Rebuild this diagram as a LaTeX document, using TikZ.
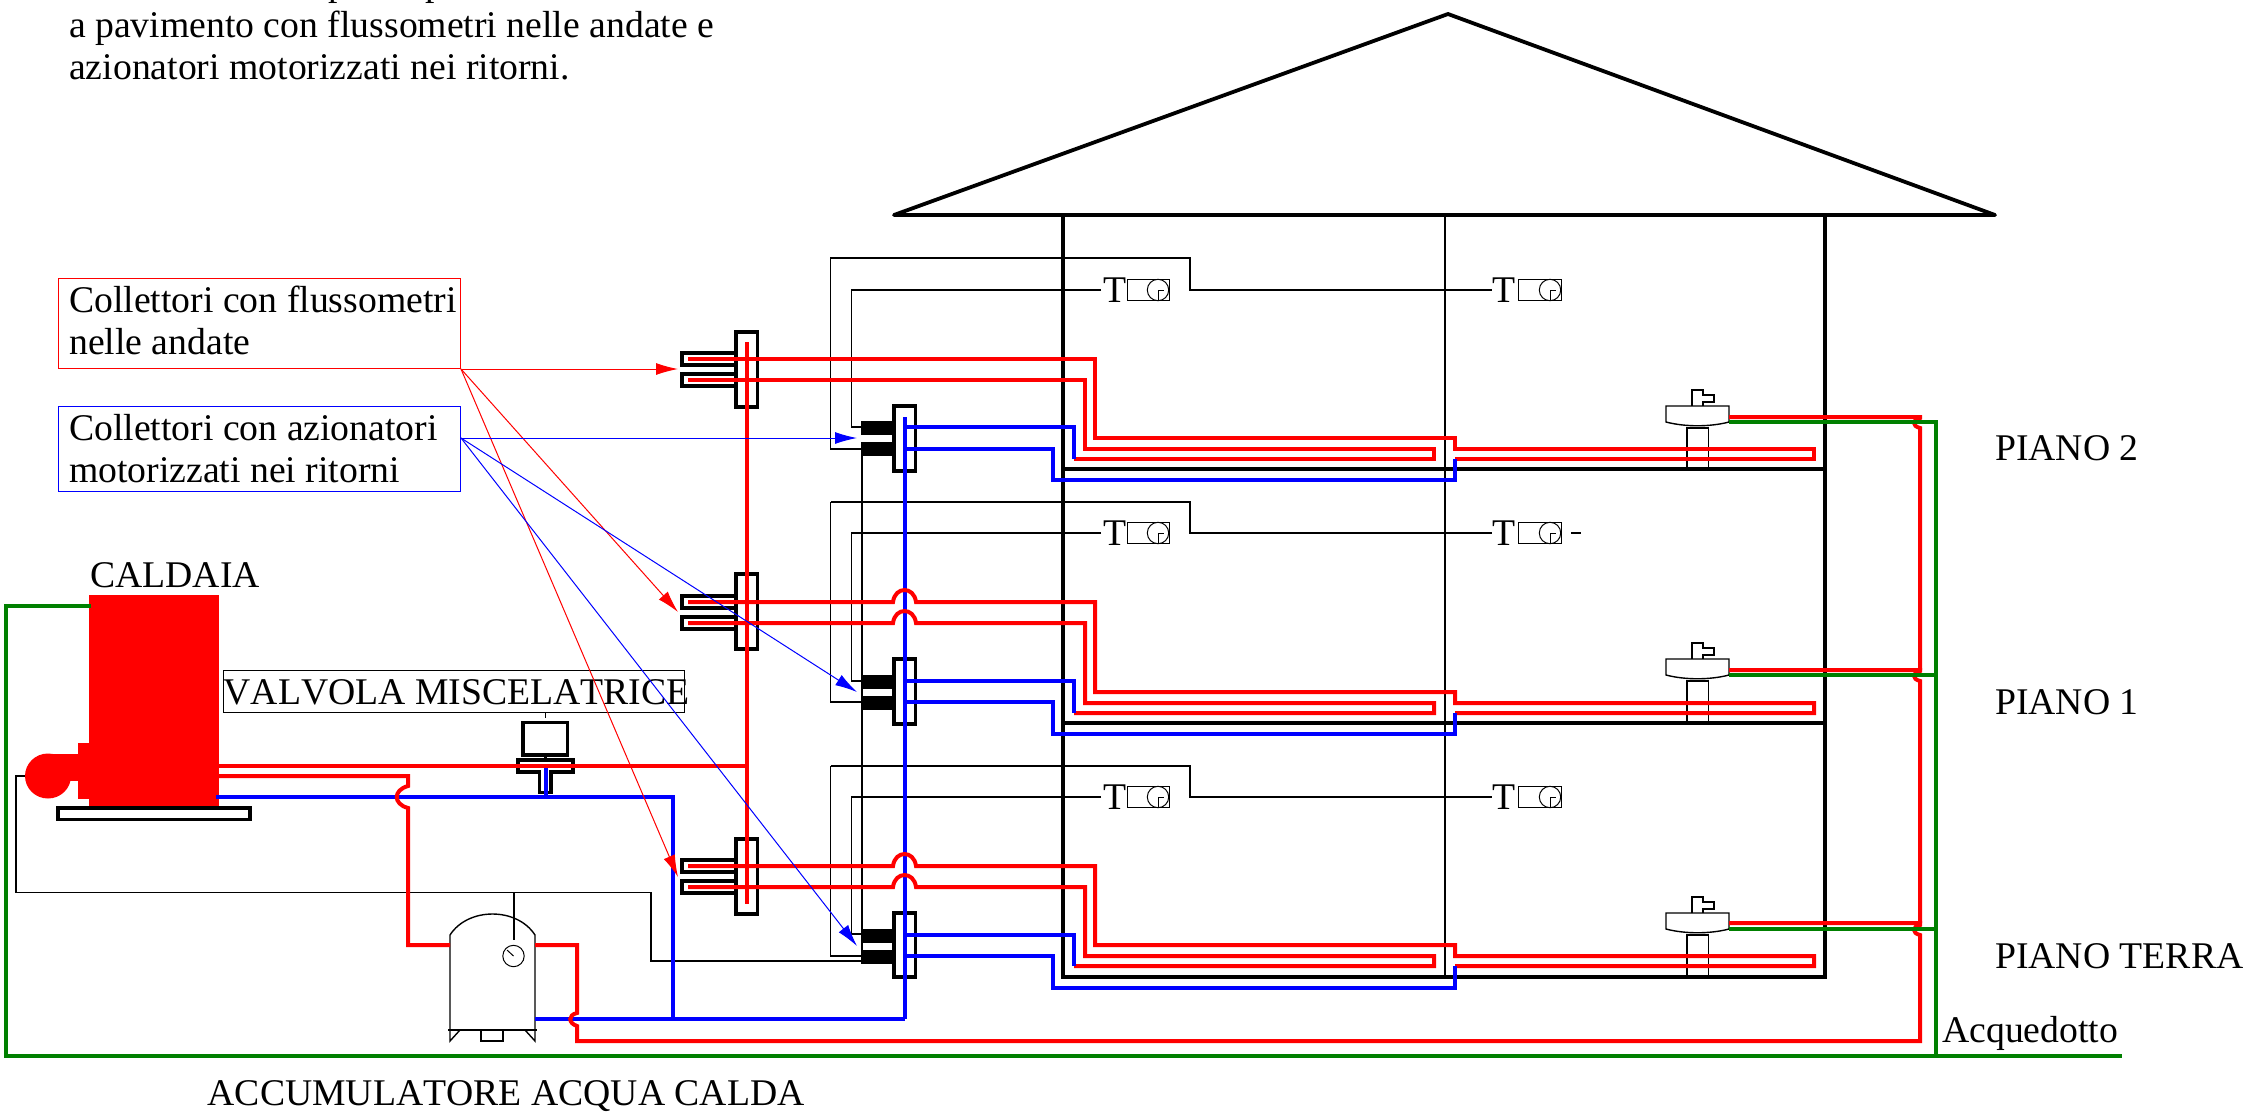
\documentclass[tikz,border=0pt]{standalone}
\usepackage{fontspec}
\setmainfont[Kerning=Off]{Liberation Serif}
\usetikzlibrary{arrows.meta}
\begin{document}
\begin{tikzpicture}[x=1pt, y=-1pt, line join=miter,
    every node/.style={font=\fontsize{37.7}{42.5}\selectfont, inner sep=0pt},
    label/.style={anchor=base west},
    thinline/.style={black, line width=1.4pt},
    fineline/.style={black, line width=1pt},
    wall/.style={black, line width=3.8pt},
    hot/.style={red, line width=4pt},
    cold/.style={blue, line width=4pt},
    mains/.style={green!50!black, line width=4pt},
    redbox/.style={draw=red, line width=1pt, minimum width=402pt, minimum height=90pt},
    bluebox/.style={draw=blue, line width=1pt, minimum width=402pt, minimum height=85pt},
    redcall/.style={red, line width=1pt, -{Latex[length=22pt, width=12pt]}},
    bluecall/.style={blue, line width=1pt, -{Latex[length=22pt, width=12pt]}}]
\useasboundingbox (0, 0) rectangle (2246, 1112);

\node (topa) [label] at (328, -5) {p};
\node (topb) [label] at (425, -5) {p};
\node (topc) [label] at (69, 37) {a pavimento con flussometri nelle andate e};
\node (topd) [label] at (69, 79) {azionatori motorizzati nei ritorni.};

\draw [wall, line join=round] (894, 215) -- (1448, 14) -- (1995, 215) -- cycle;
\draw [wall] (1063, 215) -- (1063, 977) -- (1825, 977) -- (1825, 215);
\draw [wall] (1063, 469) -- (1825, 469);
\draw [wall] (1063, 723) -- (1825, 723);
\draw [thinline] (1445, 215) -- (1445, 977);

\draw [thinline] (862, 258) -- (830.5, 258) -- (830.5, 449) -- (862, 449);
\draw [thinline] (830.5, 258) -- (1190, 258) -- (1190, 290) -- (1492, 290);
\draw [thinline] (1101, 290) -- (851.5, 290) -- (851.5, 427) -- (862, 427);
\draw [thinline] (830.5, 502) -- (830.5, 702) -- (862, 702);
\draw [thinline] (830.5, 502) -- (1190, 502) -- (1190, 533) -- (1492, 533);
\draw [thinline] (1101, 533) -- (851.5, 533) -- (851.5, 681) -- (862, 681);
\draw [thinline] (830.5, 766) -- (830.5, 956) -- (862, 956);
\draw [thinline] (830.5, 766) -- (1190, 766) -- (1190, 797) -- (1492, 797);
\draw [thinline] (1101, 797) -- (851.5, 797) -- (851.5, 934) -- (862, 934);
\draw [thinline] (862, 455) -- (862, 961);
\draw [thinline] (25, 776) -- (16, 776) -- (16, 892.5) -- (651, 892.5) -- (651, 961) -- (862, 961);
\draw [thinline] (514, 892.5) -- (514, 940);
\draw [thinline] (1571, 533) -- (1581, 533);

\node (thermoa) [label] at (1103, 302) {T};
\node (thermob) [label] at (1492, 302) {T};
\node (thermoc) [label] at (1103, 545) {T};
\node (thermod) [label] at (1492, 545) {T};
\node (thermoe) [label] at (1103, 809) {T};
\node (thermof) [label] at (1492, 809) {T};
\draw [fineline] (1127, 279) rectangle (1169, 300);
\draw [fineline] (1518, 279) rectangle (1561, 300);
\draw [fineline] (1127, 522) rectangle (1169, 543);
\draw [fineline] (1518, 522) rectangle (1561, 543);
\draw [fineline] (1127, 786) rectangle (1169, 807);
\draw [fineline] (1518, 786) rectangle (1561, 807);
\draw [fineline] (1158, 290) circle [radius=10.7];
\draw [fineline] (1550, 290) circle [radius=10.7];
\draw [fineline] (1158, 533) circle [radius=10.7];
\draw [fineline] (1550, 533) circle [radius=10.7];
\draw [fineline] (1158, 797) circle [radius=10.7];
\draw [fineline] (1550, 797) circle [radius=10.7];
\draw [fineline] (1158, 300) -- (1158, 290) -- (1164, 290);
\draw [fineline] (1550, 300) -- (1550, 290) -- (1556, 290);
\draw [fineline] (1158, 543) -- (1158, 533) -- (1164, 533);
\draw [fineline] (1550, 543) -- (1550, 533) -- (1556, 533);
\draw [fineline] (1158, 807) -- (1158, 797) -- (1164, 797);
\draw [fineline] (1550, 807) -- (1550, 797) -- (1556, 797);

\draw [thinline] (1692, 406) -- (1692, 390) -- (1703, 390) -- (1703, 395) -- (1714, 395) -- (1714, 402) -- (1703, 402) -- (1703, 406);
\draw [thinline] (1666, 406) -- (1729, 406) -- (1729, 422) .. controls (1710, 427) and (1685, 427) .. (1666, 422) -- cycle;
\draw [thinline] (1687, 469) -- (1687, 428) -- (1708.5, 428) -- (1708.5, 469);
\draw [thinline] (1692, 659) -- (1692, 643) -- (1703, 643) -- (1703, 648) -- (1714, 648) -- (1714, 655) -- (1703, 655) -- (1703, 659);
\draw [thinline] (1666, 659) -- (1729, 659) -- (1729, 675) .. controls (1710, 680) and (1685, 680) .. (1666, 675) -- cycle;
\draw [thinline] (1687, 723) -- (1687, 681) -- (1708.5, 681) -- (1708.5, 723);
\draw [thinline] (1692, 913) -- (1692, 897) -- (1703, 897) -- (1703, 902) -- (1714, 902) -- (1714, 909) -- (1703, 909) -- (1703, 913);
\draw [thinline] (1666, 913) -- (1729, 913) -- (1729, 929) .. controls (1710, 934) and (1685, 934) .. (1666, 929) -- cycle;
\draw [thinline] (1687, 977) -- (1687, 935) -- (1708.5, 935) -- (1708.5, 977);

\draw [fill, red, draw=none] (89, 595) rectangle (218.5, 808);
\draw [fill, red, draw=none] (78, 742.5) rectangle (89, 799);
\draw [fill, red, draw=none] (48, 753.5) rectangle (78, 781);
\draw [fill, red, draw=none] (48, 776) ellipse [x radius=23, y radius=22.5];
\draw [wall, fill=white] (58, 808) rectangle (250, 819.5);

\draw [thinline] (450, 1030) -- (450, 935) .. controls (468, 907) and (517, 907) .. (535, 935) -- (535, 1030);
\draw [thinline] (448, 1030) -- (537, 1030);
\draw [thinline] (450, 1041) -- (450, 1030) -- (460, 1030) -- cycle;
\draw [thinline] (535, 1041) -- (535, 1030) -- (525, 1030) -- cycle;
\draw [thinline] (481, 1030) -- (481, 1041) -- (503, 1041) -- (503, 1030);
\draw [fineline] (513.5, 956) circle [radius=10.7];
\draw [fineline] (513.5, 956) -- (507, 950);

\draw [fineline] (223, 670) rectangle (684, 712);
\node (valvola) [label] at (223.5, 704) {VALVOLA MISCELATRICE};
\draw [fineline] (545.5, 712) -- (545.5, 718);
\draw [wall] (523, 722.5) rectangle (567.5, 755);
\draw [wall] (545.5, 755) -- (545.5, 760);
\draw [wall] (518, 760) -- (573, 760) -- (573, 772) -- (551, 772) -- (551, 792.5) -- (539.5, 792.5) -- (539.5, 772) -- (518, 772) -- cycle;

\draw [wall] (736, 332) rectangle (757.5, 407);
\draw [wall] (736, 574) rectangle (757.5, 649);
\draw [wall] (736, 839) rectangle (757.5, 914);
\draw [wall] (736, 353) -- (682, 353) -- (682, 365) -- (736, 365);
\draw [wall] (736, 374) -- (682, 374) -- (682, 386) -- (736, 386);
\draw [wall] (736, 596) -- (682, 596) -- (682, 608) -- (736, 608);
\draw [wall] (736, 617) -- (682, 617) -- (682, 629) -- (736, 629);
\draw [wall] (736, 860) -- (682, 860) -- (682, 872) -- (736, 872);
\draw [wall] (736, 881) -- (682, 881) -- (682, 893) -- (736, 893);

\draw [wall] (894, 406) rectangle (915.5, 471);
\draw [wall] (894, 659) rectangle (915.5, 724);
\draw [wall] (894, 913) rectangle (915.5, 977);
\draw [fill] (861, 421) rectangle (894, 434);
\draw [fill] (861, 442) rectangle (894, 455);
\draw [fill] (861, 675) rectangle (894, 688);
\draw [fill] (861, 696) rectangle (894, 709);
\draw [fill] (861, 929) rectangle (894, 942);
\draw [fill] (861, 950) rectangle (894, 963);

\draw [cold] (904.5, 417) -- (904.5, 1019);
\draw [cold] (535, 1019) -- (904.5, 1019);
\draw [cold] (216, 797) -- (672.5, 797) -- (672.5, 1019);
\draw [cold] (545.5, 765) -- (545.5, 797);

\draw [hot] (218, 765.5) -- (746.5, 765.5);
\draw [hot] (746.5, 342) -- (746.5, 904);
\draw [hot] (218, 776) -- (408, 776) -- (408, 786) .. controls (393, 790) and (393, 804) .. (408, 808) -- (408, 945) -- (450, 945);
\draw [hot] (535, 945) -- (577, 945) -- (577, 1013) .. controls (568, 1015) and (568, 1023) .. (577, 1026) -- (577, 1041) -- (1920, 1041) -- (1920, 935) .. controls (1912, 933) and (1912, 927) .. (1920, 925) -- (1920, 923) -- (1729, 923);
\draw [hot] (1920, 923) -- (1920, 681) .. controls (1912, 679) and (1912, 673) .. (1920, 671) -- (1920, 670) -- (1729, 670);
\draw [hot] (1920, 670) -- (1920, 428) .. controls (1912, 426) and (1912, 420) .. (1920, 418) -- (1920, 417) -- (1729, 417);

\draw [mains] (91, 606) -- (5.5, 606) -- (5.5, 1056) -- (2122, 1056);
\draw [mains] (1936, 1056) -- (1936, 422) -- (1729, 422);
\draw [mains] (1936, 675) -- (1729, 675);
\draw [mains] (1936, 929) -- (1729, 929);

\draw [hot] (688, 359) -- (1095, 359) -- (1095, 438) -- (1455, 438) -- (1455, 449) -- (1814, 449) -- (1814, 459) -- (1455, 459);
\draw [hot] (688, 380) -- (1085, 380) -- (1085, 449) -- (1434, 449) -- (1434, 459) -- (1074, 459);
\draw [cold] (905, 427) -- (1074, 427) -- (1074, 459);
\draw [cold] (905, 449) -- (1053, 449) -- (1053, 480) -- (1455, 480) -- (1455, 459);

\draw [hot] (688, 602) -- (893, 602) .. controls (895, 586) and (914, 586) .. (916, 602) -- (1095, 602) -- (1095, 692) -- (1455, 692) -- (1455, 703) -- (1814, 703) -- (1814, 713) -- (1455, 713);
\draw [hot] (688, 623) -- (893, 623) .. controls (895, 607) and (914, 607) .. (916, 623) -- (1085, 623) -- (1085, 703) -- (1434, 703) -- (1434, 713) -- (1074, 713);
\draw [cold] (905, 681) -- (1074, 681) -- (1074, 713);
\draw [cold] (905, 702) -- (1053, 702) -- (1053, 734) -- (1455, 734) -- (1455, 713);

\draw [hot] (688, 866) -- (893, 866) .. controls (895, 850) and (914, 850) .. (916, 866) -- (1095, 866) -- (1095, 945) -- (1455, 945) -- (1455, 956) -- (1814, 956) -- (1814, 966) -- (1455, 966);
\draw [hot] (688, 887) -- (893, 887) .. controls (895, 871) and (914, 871) .. (916, 887) -- (1085, 887) -- (1085, 956) -- (1434, 956) -- (1434, 966) -- (1074, 966);
\draw [cold] (905, 935) -- (1074, 935) -- (1074, 966);
\draw [cold] (905, 956) -- (1053, 956) -- (1053, 988) -- (1455, 988) -- (1455, 966);

\node (caldaia) [label] at (90, 587.5) {CALDAIA};
\node (accumulatore) [label] at (207.5, 1105) {ACCUMULATORE ACQUA CALDA};
\node (pianodue) [label] at (1995, 460) {PIANO 2};
\node (pianouno) [label] at (1995, 714) {PIANO 1};
\node (pianoterra) [label] at (1995, 968) {PIANO TERRA};
\node (acquedotto) [label] at (1942, 1042) {Acquedotto};

\node (andate) [redbox] at (259.5, 323.5) {};
\node (ritorni) [bluebox] at (259.5, 448.5) {};
\node (andatea) [label] at (69, 312) {Collettori con flussometri};
\node (andateb) [label] at (69, 354) {nelle andate};
\node (ritornia) [label] at (69, 440) {Collettori con azionatori};
\node (ritornib) [label] at (69, 482.5) {motorizzati nei ritorni};
\coordinate (ritorniout) at (ritorni.east |- 0, 438);
\coordinate (flussoa) at (678, 369);
\coordinate (flussob) at (678, 612);
\coordinate (flussoc) at (678, 877);
\coordinate (azionea) at (857, 438);
\coordinate (azioneb) at (857, 692);
\coordinate (azionec) at (857, 946);
\draw [redcall] (andate.south east) -- (flussoa);
\draw [redcall] (andate.south east) -- (flussob);
\draw [redcall] (andate.south east) -- (flussoc);
\draw [bluecall] (ritorniout) -- (azionea);
\draw [bluecall] (ritorniout) -- (azioneb);
\draw [bluecall] (ritorniout) -- (azionec);
\end{tikzpicture}
\end{document}
